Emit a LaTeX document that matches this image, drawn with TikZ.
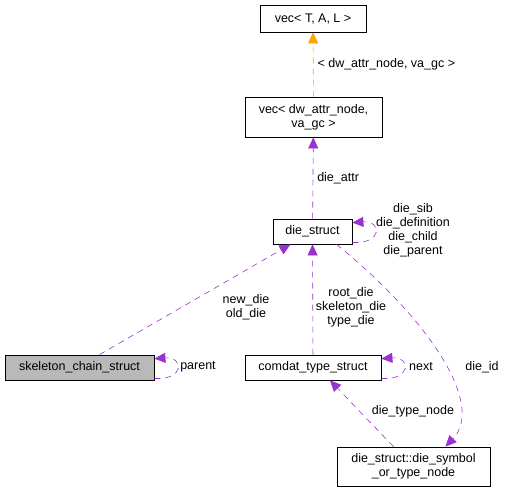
\documentclass[tikz,border=0pt]{standalone}
\usepackage{fontspec}
\setmainfont{Liberation Sans}
\usetikzlibrary{arrows.meta}
\definecolor{edgepurple}{RGB}{154,50,205}
\definecolor{edgeorange}{RGB}{255,165,0}
\tikzset{
  cls/.style={draw, thick, inner sep=0pt, font=\fontsize{12.5}{14}\selectfont, align=center},
  edge/.style={draw=edgepurple, dash pattern=on 6pt off 5pt, -{Triangle[length=11pt,width=10pt]}, semithick},
  lbl/.style={text=black, font=\fontsize{12.5}{14}\selectfont, align=center, inner sep=0pt}
}
\begin{document}
\begin{tikzpicture}[x=1pt,y=-1pt]
        \useasboundingbox (0,0) rectangle (505,493);
        % classes
        \node[cls, minimum width=106pt, minimum height=27pt] (vtal) at (313,18.5) {vec\textless{} T, A, L \textgreater};
        \node[cls, minimum width=137pt, minimum height=40pt] (vdw) at (313.5,117) {vec\textless{} dw\_attr\_node,\\ va\_gc \textgreater};
        \node[cls, minimum width=79pt, minimum height=25pt] (ds) at (312.5,231.5) {die\_struct};
        \node[cls, fill=gray!55, minimum width=149pt, minimum height=25pt] (scs) at (79.5,367.5) {skeleton\_chain\_struct};
        \node[cls, minimum width=136pt, minimum height=25pt] (cts) at (313,367.5) {comdat\_type\_struct};
        \node[cls, minimum width=153pt, minimum height=39pt] (dsym) at (413.5,466.5) {die\_struct::die\_symbol\\ \_or\_type\_node};
        % edges
        \draw[edge, draw=edgeorange, edgeorange] (vdw) -- (vtal)
            node[lbl, pos=.5, right=4pt] {\textless{} dw\_attr\_node, va\_gc \textgreater};
        \draw[edge, edgepurple] (ds) -- (vdw) node[lbl, pos=.5, right=4pt] {die\_attr};
        \draw[edge, edgepurple] (ds.south east) ++(0,-2) .. controls +(30,2) and +(30,-2) .. ([yshift=-4pt]ds.north east);
        \node[lbl] (dslbl) at (413,230) {die\_sib\\die\_definition\\die\_child\\die\_parent};
        \draw[edge, edgepurple] ([xshift=20pt]scs.north) -- ([xshift=-22pt]ds.south);
        \node[lbl] (scslbl) at (246,307) {new\_die\\old\_die};
        \draw[edge, edgepurple] (scs.south east) ++(0,-2) .. controls +(30,2) and +(30,-2) .. ([yshift=-4pt]scs.north east);
        \node[lbl] (parentlbl) at (198,367) {parent};
        \draw[edge, edgepurple] (cts) -- (ds);
        \node[lbl] (ctslbl) at (351,307) {root\_die\\skeleton\_die\\type\_die};
        \draw[edge, edgepurple] (cts.south east) ++(0,-2) .. controls +(30,2) and +(30,-2) .. ([yshift=-4pt]cts.north east);
        \node[lbl] (nextlbl) at (421,367) {next};
        \draw[edge, edgepurple] ([xshift=24pt]ds.south) .. controls (430,320) and (485,405) .. ([xshift=32pt]dsym.north);
        \node[lbl] (idlbl) at (482,367) {die\_id};
        \draw[edge, edgepurple] ([xshift=-20pt]dsym.north) -- ([xshift=17pt]cts.south);
        \node[lbl] (tnlbl) at (413,411) {die\_type\_node};
\end{tikzpicture}
\end{document}
